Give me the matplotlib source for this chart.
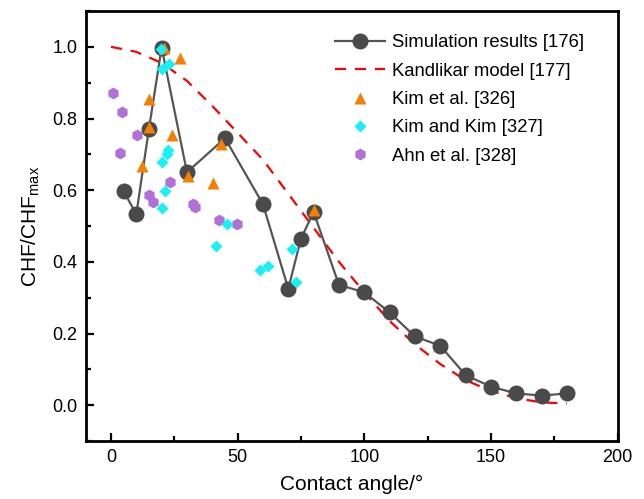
import matplotlib
matplotlib.use('Agg')
import matplotlib.pyplot as plt
from matplotlib.ticker import MultipleLocator

plt.rcParams['font.family'] = ['Liberation Sans', 'DejaVu Sans']
plt.rcParams['mathtext.fontset'] = 'custom'
plt.rcParams['mathtext.rm'] = 'Liberation Sans'

# simulation results [176]
sim_x = [5, 10, 15, 20, 30, 45, 60, 70, 75, 80, 90, 100, 110, 120, 130, 140, 150, 160, 170, 180]
sim_y = [0.597, 0.533, 0.772, 0.998, 0.650, 0.745, 0.561, 0.325, 0.465, 0.539, 0.336, 0.315,
         0.259, 0.192, 0.166, 0.084, 0.052, 0.033, 0.027, 0.033]

# Kandlikar model [177]
kand_x = [0, 10, 20, 30, 40, 50, 60, 70, 80, 90, 100, 110, 120, 130, 140, 150, 160, 170, 180]
kand_y = [1.0, 0.986, 0.955, 0.905, 0.835, 0.76, 0.685, 0.59, 0.495, 0.40, 0.315, 0.235,
          0.17, 0.115, 0.07, 0.04, 0.02, 0.008, 0.005]

# Kim et al. [326]
kim_x = [21, 27.3, 14.9, 14.9, 24, 12.2, 43.3, 30.3, 40.2, 80.1]
kim_y = [0.997, 0.970, 0.854, 0.777, 0.753, 0.668, 0.730, 0.640, 0.619, 0.544]

# Kim and Kim [327]
kk_x = [19.7, 23, 20, 22.7, 22, 20.1, 21.4, 20.3, 45.9, 41.6, 58.8, 61.8, 71.3, 72.9]
kk_y = [0.994, 0.953, 0.938, 0.712, 0.700, 0.679, 0.598, 0.551, 0.505, 0.444, 0.377, 0.388,
        0.437, 0.344]

# Ahn et al. [328]
ahn_x = [0.8, 4.3, 10.3, 3.6, 23.4, 15.1, 16.7, 32.5, 33, 42.6, 49.8]
ahn_y = [0.872, 0.817, 0.754, 0.705, 0.623, 0.587, 0.568, 0.562, 0.553, 0.518, 0.505]

fig = plt.figure(figsize=(6.44, 4.99), dpi=100)
ax = fig.add_axes([0.133, 0.116, 0.826, 0.862])

ax.plot(kand_x, kand_y, color='#ff0000', lw=1.6, ls=(0, (5, 4)), label='Kandlikar model [177]', zorder=2)
ax.plot(ahn_x, ahn_y, ls='none', marker='h', ms=8.5, color='#b070d8', mec='none', label='Ahn et al. [328]', zorder=3)
ax.plot(sim_x, sim_y, color='#555555', lw=1.6, marker='o', ms=10.5, mfc='#4a4a4a', mec='#4a4a4a',
        label='Simulation results [176]', zorder=4)
ax.plot(kim_x, kim_y, ls='none', marker='^', ms=8, color='#f57f00', mec='none', label='Kim et al. [326]', zorder=5)
ax.plot(kk_x, kk_y, ls='none', marker='D', ms=6.5, color='#17f0f5', mec='none', label='Kim and Kim [327]', zorder=6)

ax.set_xlim(-10, 200)
ax.set_ylim(-0.1, 1.1)
ax.xaxis.set_major_locator(MultipleLocator(50))
ax.xaxis.set_minor_locator(MultipleLocator(25))
ax.yaxis.set_major_locator(MultipleLocator(0.2))
ax.yaxis.set_minor_locator(MultipleLocator(0.1))
ax.yaxis.set_major_formatter(plt.FormatStrFormatter('%.1f'))
ax.tick_params(which='both', direction='in', width=1.6, labelsize=13, top=False, right=False)
ax.tick_params(which='major', length=6, pad=6)
ax.tick_params(which='minor', length=3.5)
for s in ax.spines.values():
    s.set_linewidth(2)

ax.set_xlabel('Contact angle/°', fontsize=15, labelpad=6)
ax.set_ylabel(r'CHF/CHF$_{\mathrm{max}}$', fontsize=15, labelpad=7)

h, l = ax.get_legend_handles_labels()
order = [2, 0, 3, 4, 1]
ax.legend([h[i] for i in order], [l[i] for i in order], loc='upper right', frameon=False,
          fontsize=13.3, handlelength=2.7, handletextpad=0.4, labelspacing=0.62,
          bbox_to_anchor=(0.958, 0.972), borderaxespad=0.2)

fig.savefig('out.png', dpi=100)
